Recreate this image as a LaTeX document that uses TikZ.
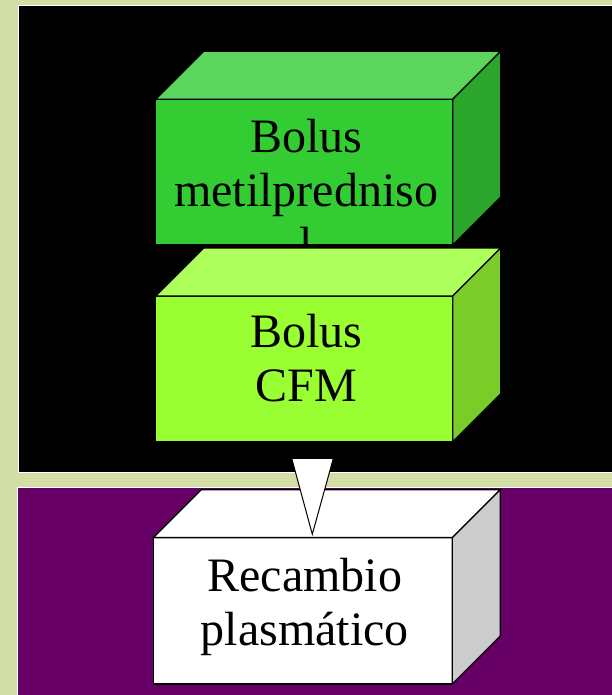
\documentclass[tikz,border=0pt]{standalone}
\usepackage{fontspec}
\setmainfont{Liberation Serif}
\usetikzlibrary{calc}

\definecolor{paper}{RGB}{210,222,165}
\definecolor{plum}{RGB}{102,0,102}
\definecolor{greenfront}{RGB}{51,204,51}
\definecolor{greentop}{RGB}{92,214,92}
\definecolor{greenside}{RGB}{44,165,44}
\definecolor{limefront}{RGB}{153,255,51}
\definecolor{limetop}{RGB}{173,255,92}
\definecolor{limeside}{RGB}{122,204,41}
\definecolor{greyside}{RGB}{204,204,204}

\tikzset{
  face/.style={draw=black, line width=1.3pt, inner sep=0pt, outer sep=0pt,
    minimum width=297pt, minimum height=145.7pt},
  boxtext/.style={align=center, inner sep=0pt, font=\fontsize{48}{54}\selectfont},
}

\begin{document}
\begin{tikzpicture}[x=1pt, y=1pt]

  \useasboundingbox (0,0) rectangle (612,695);

  % Page and the two panels
  \fill[paper] (0,0) rectangle (612,695);
  \filldraw[fill=black, draw=white, line width=1pt] (18.5,222.5) rectangle (613,689);
  \filldraw[fill=plum, draw=white, line width=1pt] (17.5,-1) rectangle (613,207);

  % First box
  \node[face, fill=greenfront] (bolusA) at (304.2,522.8) {};
  \filldraw[fill=greentop, line width=1.3pt] (bolusA.north west) -- ++(48,48)
    -- ($(bolusA.north east)+(48,48)$) -- (bolusA.north east) -- cycle;
  \filldraw[fill=greenside, line width=1.3pt] (bolusA.north east) -- ++(48,48)
    -- ($(bolusA.south east)+(48,48)$) -- (bolusA.south east) -- cycle;
  \node[boxtext] (bolusA-text) at ($(bolusA.center)+(2,-18)$) {Bolus\\metilpredniso\\l};

  % Second box
  \node[face, fill=limefront] (bolusB) at (304.2,326.1) {};
  \filldraw[fill=limetop, line width=1.3pt] (bolusB.north west) -- ++(48,48)
    -- ($(bolusB.north east)+(48,48)$) -- (bolusB.north east) -- cycle;
  \filldraw[fill=limeside, line width=1.3pt] (bolusB.north east) -- ++(48,48)
    -- ($(bolusB.south east)+(48,48)$) -- (bolusB.south east) -- cycle;
  \node[boxtext] (bolusB-text) at ($(bolusB.center)+(2,10.5)$) {Bolus\\CFM};

  % Third box
  \node[face, fill=white, minimum width=299pt, minimum height=146.3pt] (plasma) at (302.8,84.2) {};
  \filldraw[fill=white, line width=1.3pt] (plasma.north west) -- ++(48,48)
    -- ($(plasma.north east)+(48,48)$) -- (plasma.north east) -- cycle;
  \filldraw[fill=greyside, line width=1.3pt] (plasma.north east) -- ++(48,48)
    -- ($(plasma.south east)+(48,48)$) -- (plasma.south east) -- cycle;
  \node[boxtext] (plasma-text) at ($(plasma.center)+(2,3.5)$) {Recambio\\plasmático};

  % Arrow between second and third box
  \filldraw[fill=white, line width=1pt] ($(bolusB.south)+(-12.5,-16.6)$)
    -- ($(bolusB.south)+(29.1,-16.6)$) -- ($(plasma.north)+(9.5,3.4)$) -- cycle;

\end{tikzpicture}
\end{document}
